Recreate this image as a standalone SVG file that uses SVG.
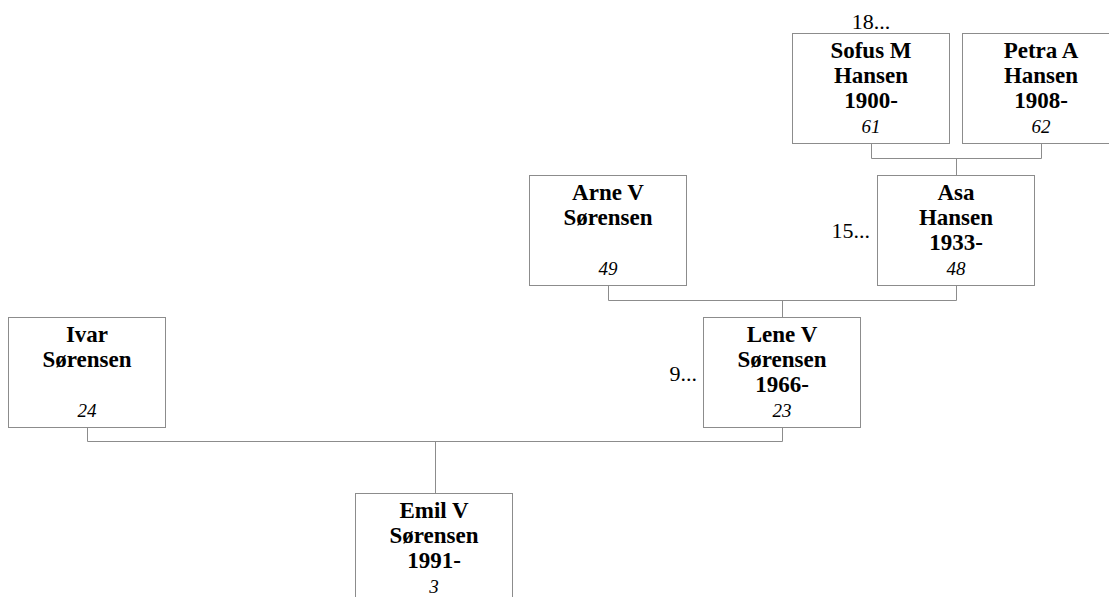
<svg xmlns="http://www.w3.org/2000/svg" width="1109" height="597" viewBox="0 0 1109 597">
<style>
.box{fill:#fff;stroke:#8c8c8c;stroke-width:1}
.con{fill:none;stroke:#8c8c8c;stroke-width:1}
.n{font-family:"Liberation Serif","Times New Roman",serif;font-weight:bold;font-size:23px;fill:#000;text-anchor:middle}
.i{font-family:"Liberation Serif","Times New Roman",serif;font-style:italic;font-size:19px;fill:#000;text-anchor:middle}
.l{font-family:"Liberation Serif","Times New Roman",serif;font-size:22px;fill:#000}
</style>
<rect width="1109" height="597" fill="#fff"/>
<g id="connectors">
<path class="con" d="M871.5,143 V158.5 H1041.5 V143 M956.5,158.5 V175"/>
<path class="con" d="M608.5,285 V300.5 H956.5 V285 M782.5,300.5 V317"/>
<path class="con" d="M87.5,427 V441.5 H782.5 V427 M435.5,441.5 V493"/>
</g>
<g id="sofus">
<rect class="box" x="792.5" y="33.5" width="157" height="110"/>
<text class="n" x="871" y="58">Sofus M</text>
<text class="n" x="871" y="83">Hansen</text>
<text class="n" x="871" y="108">1900-</text>
<text class="i" x="871" y="133">61</text>
<text class="l" x="871" y="29" text-anchor="middle">18...</text>
</g>
<g id="petra">
<rect class="box" x="962.5" y="33.5" width="157" height="110"/>
<text class="n" x="1041" y="58">Petra A</text>
<text class="n" x="1041" y="83">Hansen</text>
<text class="n" x="1041" y="108">1908-</text>
<text class="i" x="1041" y="133">62</text>
</g>
<g id="asa">
<rect class="box" x="877.5" y="175.5" width="157" height="110"/>
<text class="n" x="956" y="200">Asa</text>
<text class="n" x="956" y="225">Hansen</text>
<text class="n" x="956" y="250">1933-</text>
<text class="i" x="956" y="275">48</text>
<text class="l" x="870" y="238" text-anchor="end">15...</text>
</g>
<g id="arne">
<rect class="box" x="529.5" y="175.5" width="157" height="110"/>
<text class="n" x="608" y="200">Arne V</text>
<text class="n" x="608" y="225">Sørensen</text>
<text class="i" x="608" y="275">49</text>
</g>
<g id="lene">
<rect class="box" x="703.5" y="317.5" width="157" height="110"/>
<text class="n" x="782" y="342">Lene V</text>
<text class="n" x="782" y="367">Sørensen</text>
<text class="n" x="782" y="392">1966-</text>
<text class="i" x="782" y="417">23</text>
<text class="l" x="697" y="381" text-anchor="end">9...</text>
</g>
<g id="ivar">
<rect class="box" x="8.5" y="317.5" width="157" height="110"/>
<text class="n" x="87" y="342">Ivar</text>
<text class="n" x="87" y="367">Sørensen</text>
<text class="i" x="87" y="417">24</text>
</g>
<g id="emil">
<rect class="box" x="355.5" y="493.5" width="157" height="110"/>
<text class="n" x="434" y="518">Emil V</text>
<text class="n" x="434" y="543">Sørensen</text>
<text class="n" x="434" y="568">1991-</text>
<text class="i" x="434" y="593">3</text>
</g>
</svg>
